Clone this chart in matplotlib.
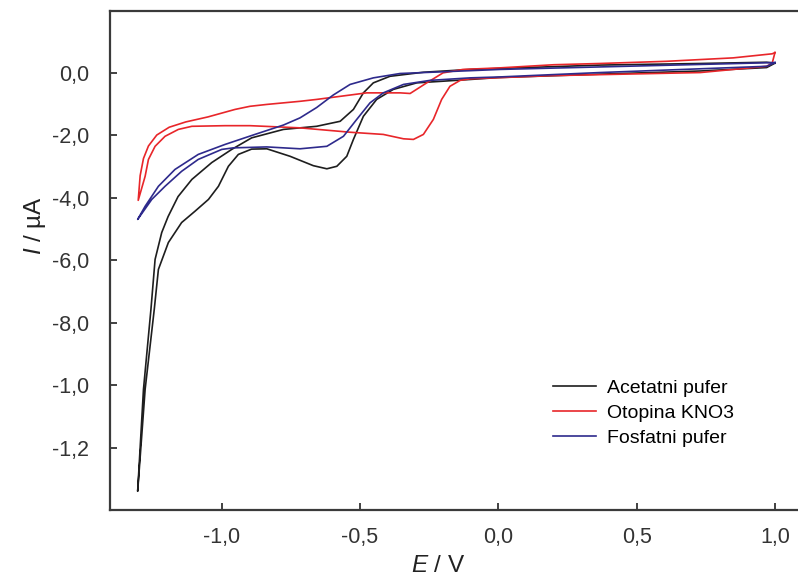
import matplotlib
matplotlib.use("Agg")
import matplotlib.pyplot as plt

plt.rcParams['font.family'] = ['Liberation Sans', 'DejaVu Sans']
plt.rcParams['mathtext.fontset'] = 'custom'
plt.rcParams['mathtext.it'] = 'Liberation Sans:italic'
plt.rcParams['mathtext.rm'] = 'Liberation Sans'

# Acetatni pufer (cathodic scan 1.0 -> -1.3, then back to 1.0)
E_acet = [1.0, 0.97, 0.73, 0.37, 0.0, -0.1, -0.295, -0.38, -0.44, -0.488, -0.524, -0.548,
          -0.584, -0.62, -0.669, -0.753, -0.837, -0.892, -0.94, -0.976, -1.012, -1.048,
          -1.097, -1.145, -1.193, -1.229, -1.244, -1.277, -1.304,
          -1.283, -1.256, -1.241, -1.217, -1.194, -1.158, -1.108, -1.036, -0.964, -0.892,
          -0.777, -0.657, -0.572, -0.524, -0.488, -0.452, -0.392, -0.271, -0.102, 0.37,
          0.729, 0.97, 1.0]
I_acet = [0.30, 0.16, 0.05, -0.05, -0.16, -0.22, -0.33, -0.54, -0.86, -1.4, -2.14, -2.68,
          -3.0, -3.08, -2.98, -2.68, -2.44, -2.45, -2.62, -3.0, -3.64, -4.06,
          -4.44, -4.8, -5.44, -6.3, -7.58, -10.14, -13.4,
          -10.14, -7.58, -5.98, -5.12, -4.61, -3.97, -3.42, -2.88, -2.46, -2.09,
          -1.82, -1.72, -1.56, -1.18, -0.65, -0.33, -0.12, 0.01, 0.10, 0.24,
          0.29, 0.33, 0.30]

# Otopina KNO3
E_kno3 = [1.0, 0.99, 0.97, 0.73, 0.187, -0.102, -0.138, -0.175, -0.205, -0.235, -0.271,
          -0.307, -0.343, -0.416, -0.536, -0.717, -0.898, -0.988, -1.108, -1.157, -1.205,
          -1.241, -1.265, -1.277, -1.302,
          -1.295, -1.283, -1.265, -1.235, -1.19, -1.13, -1.05, -0.952, -0.898, -0.837,
          -0.717, -0.657, -0.476, -0.355, -0.319, -0.259, -0.2, -0.128, 0.006, 0.2,
          0.367, 0.608, 0.849, 0.99, 1.0]
I_kno3 = [0.64, 0.3, 0.2, 0.0, -0.1, -0.2, -0.25, -0.44, -0.86, -1.5, -1.98,
          -2.14, -2.12, -1.98, -1.91, -1.77, -1.70, -1.70, -1.72, -1.82, -2.04,
          -2.36, -2.78, -3.32, -4.09,
          -3.3, -2.75, -2.35, -2.0, -1.75, -1.58, -1.42, -1.18, -1.08, -1.02,
          -0.92, -0.86, -0.65, -0.65, -0.67, -0.33, -0.01, 0.10, 0.15, 0.25,
          0.29, 0.36, 0.47, 0.60, 0.64]

# Fosfatni pufer
E_fosf = [1.0, 0.97, 0.729, 0.367, 0.006, -0.102, -0.247, -0.343, -0.416, -0.464, -0.512,
          -0.56, -0.62, -0.717, -0.837, -0.958, -1.0, -1.085, -1.145, -1.205, -1.253, -1.304,
          -1.277, -1.229, -1.169, -1.085, -0.988, -0.88, -0.777, -0.717, -0.657, -0.597,
          -0.536, -0.452, -0.355, -0.102, 0.006, 0.367, 0.729, 1.0]
I_fosf = [0.32, 0.2, 0.12, 0.0, -0.14, -0.17, -0.25, -0.38, -0.65, -0.97, -1.5,
          -2.04, -2.36, -2.44, -2.38, -2.41, -2.46, -2.78, -3.16, -3.64, -4.06, -4.70,
          -4.28, -3.64, -3.10, -2.62, -2.30, -1.98, -1.68, -1.45, -1.12, -0.72,
          -0.38, -0.17, -0.03, 0.06, 0.10, 0.18, 0.26, 0.32]

labels = ["Acetatni pufer", "Otopina KNO3", "Fosfatni pufer"]
colors = ["#1e1e1e", "#e8262a", "#2e2a8c"]

x_ticks = [-1.0, -0.5, 0.0, 0.5, 1.0]
x_labels = ["-1,0", "-0,5", "0,0", "0,5", "1,0"]
y_ticks = [0, -2, -4, -6, -8, -10, -12]
y_labels = ["0,0", "-2,0", "-4,0", "-6,0", "-8,0", "-1,0", "-1,2"]

W, H = 798, 578
fig = plt.figure(figsize=(W / 100, H / 100), dpi=100)
ax = fig.add_axes([110 / W, (H - 510) / H, (830 - 110) / W, (510 - 11) / H])

for E, I, c, lab in zip([E_acet, E_kno3, E_fosf], [I_acet, I_kno3, I_fosf], colors, labels):
    ax.plot(E, I, color=c, lw=1.2, label=lab, solid_joinstyle='round')

ax.set_xlim(-1.404, 1.199)
ax.set_ylim(-14.0, 1.97)
ax.set_xticks(x_ticks)
ax.set_xticklabels(x_labels)
ax.set_yticks(y_ticks)
ax.set_yticklabels(y_labels)
ax.tick_params(direction='in', length=5, width=1.3, labelsize=15.5, colors='#333333')
ax.tick_params(axis='y', pad=15)
ax.tick_params(axis='x', pad=12)
for s in ax.spines.values():
    s.set_linewidth(1.6)
    s.set_color('#3a3a3a')
ax.spines['right'].set_visible(False)

ax.set_xlabel("$\\mathit{E}$ / V", fontsize=17.5, color='#222222')
ax.xaxis.set_label_coords((438 - 110) / (830 - 110), -(566 - 510) / (510 - 11), transform=ax.transAxes)
ax.xaxis.label.set_va('center')
ax.set_ylabel("$\\mathit{I}$ / µA", fontsize=17.5, color='#222222')
ax.yaxis.set_label_coords(-(110 - 35) / (830 - 110), (510 - 225) / (510 - 11), transform=ax.transAxes)
ax.yaxis.label.set_va('center')

ax.legend(loc='upper left', bbox_to_anchor=(553 / W, 1 - 379 / H), bbox_transform=fig.transFigure,
          frameon=False, fontsize=14, handlelength=2.2, handletextpad=0.6,
          labelspacing=0.38, borderpad=0, borderaxespad=0)

fig.savefig("out.png", dpi=100)
